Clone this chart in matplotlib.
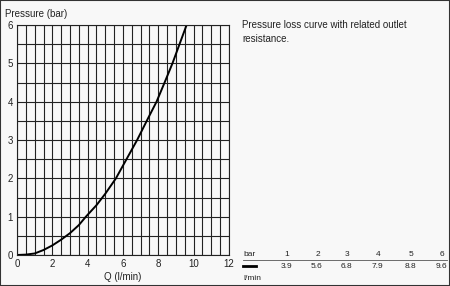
import matplotlib.pyplot as plt
import numpy as np

# pressure loss curve
flow = [0, 0.5, 1.0, 1.5, 2.0, 2.5, 3.0, 3.5, 3.9, 4.5, 5.0, 5.6,
        6.2, 6.8, 7.4, 7.9, 8.4, 8.8, 9.2, 9.6]
pressure = [0, 0.01, 0.04, 0.13, 0.25, 0.4, 0.57, 0.78, 1.0, 1.3, 1.6, 2.0,
            2.5, 3.0, 3.55, 4.0, 4.55, 5.0, 5.5, 6.0]

# table at the bottom right
table_bar = ['1', '2', '3', '4', '5', '6']
table_flow = ['3.9', '5.6', '6.8', '7.9', '8.8', '9.6']

plt.rcParams['font.family'] = ['Liberation Sans', 'DejaVu Sans']

fig = plt.figure(figsize=(4.5, 2.86), dpi=100, facecolor='#f8f8f8')
ax = fig.add_axes([17 / 450, 1 - 255 / 286, 212 / 450, 230 / 286])
ax.set_facecolor('#f8f8f8')

ax.plot(flow, pressure, color='black', lw=1.4, solid_capstyle='round')

ax.set_xlim(0, 12)
ax.set_ylim(0, 6)
ax.set_xticks(np.arange(0, 13, 2))
ax.set_yticks(np.arange(0, 7, 1))
ax.set_xticks(np.arange(0, 12.5, 0.5), minor=True)
ax.set_yticks(np.arange(0, 6.5, 0.5), minor=True)
ax.grid(True, which='both', color='#222222', lw=0.8)
ax.tick_params(which='both', length=0, labelsize=7, pad=3, colors='#222222')
for s in ax.spines.values():
    s.set_color('#222222')
    s.set_linewidth(0.8)

fig.text(5 / 450, 1 - 14 / 286, 'Pressure (bar)', fontsize=7, va='center', color='#222222')
fig.text(123 / 450, 1 - 277 / 286, 'Q (l/min)', fontsize=7, ha='center', va='center', color='#222222')

fig.text(242 / 450, 1 - 32 / 286, 'Pressure loss curve with related outlet\nresistance.',
         fontsize=7, va='center', linespacing=1.5, color='#222222')

# small table
fig.text(243 / 450, 1 - 255 / 286, 'bar', fontsize=6, va='center', color='#222222')
xs = [289, 320, 349, 380, 413, 444]
for x, b, q in zip(xs, table_bar, table_flow):
    fig.text(x / 450, 1 - 255 / 286, b, fontsize=6, ha='right', va='center', color='#222222')
    fig.text((x - 3) / 450, 1 - 266 / 286, q, fontsize=6, ha='center', va='center', color='#222222')
fig.text(243 / 450, 1 - 278 / 286, 'l/min', fontsize=6, va='center', color='#222222')
fig.add_artist(plt.Line2D([243 / 450, 447 / 450], [1 - 260 / 286] * 2, color='#555555', lw=0.6))
fig.add_artist(plt.Line2D([243 / 450, 256 / 450], [1 - 265.5 / 286] * 2, color='black', lw=2))

# outer frame
fig.add_artist(plt.Rectangle((0, 0), 1, 1, transform=fig.transFigure, fill=False,
                             edgecolor='#333333', lw=1.5))

fig.savefig('out.png', dpi=100, facecolor=fig.get_facecolor())
